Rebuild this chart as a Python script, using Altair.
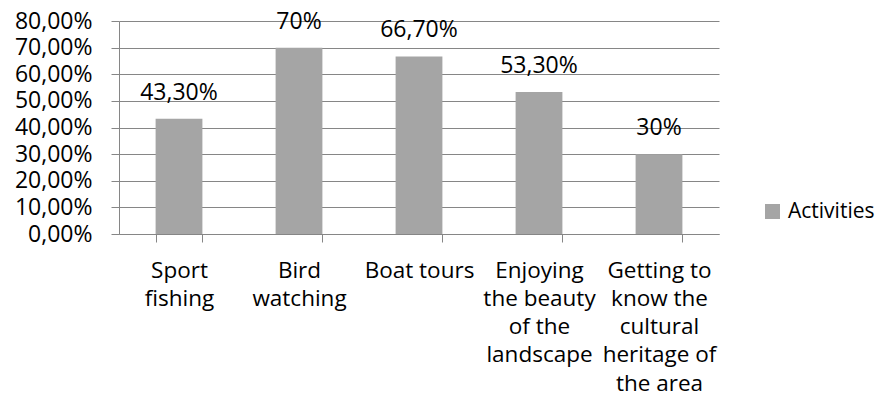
import altair as alt
import pandas as pd

categories = ["Sport fishing", "Bird watching", "Boat tours",
              "Enjoying the beauty of the landscape",
              "Getting to know the cultural heritage of the area"]
wrapped = [["Sport", "fishing"], ["Bird", "watching"], ["Boat tours"],
           ["Enjoying", "the beauty", "of the", "landscape"],
           ["Getting to", "know the", "cultural", "heritage of", "the area"]]
values = [43.3, 70.0, 66.7, 53.3, 30.0]
value_labels = ["43,30%", "70%", "66,70%", "53,30%", "30%"]
y_ticks = [0, 10, 20, 30, 40, 50, 60, 70, 80]
series = "Activities"

df = pd.DataFrame({"cat": categories, "val": values, "lab": value_labels,
                   "series": [series] * len(categories)})

# label expression mapping category -> wrapped lines
parts = []
for c, w in zip(categories, wrapped):
    arr = "[" + ",".join("'" + s + "'" for s in w) + "]"
    parts.append(f"datum.label == '{c}' ? {arr} : ")
label_expr = "".join(parts) + "datum.label"

FONT = "Open Sans"
FS = 22.5
NUM_FS = 23
GRID = "#868686"

y_axis = alt.Axis(values=y_ticks,
                  labelExpr="replace(format(datum.value, '.2f'), '.', ',') + '%'",
                  labelFont=FONT, labelFontSize=NUM_FS, labelColor="#000000",
                  labelPadding=19, tickSize=8, tickColor=GRID,
                  labelOverlap=False, labelBound=False, labelFlush=False,
                  domainColor=GRID, gridColor=GRID, grid=True)
y_scale = alt.Scale(domain=[0, 80], nice=False)

base = alt.Chart(df).encode(
    x=alt.X("cat:N", sort=categories, title=None,
            scale=alt.Scale(paddingInner=0.61, paddingOuter=0.305),
            axis=alt.Axis(labelExpr=label_expr, labelAngle=0, labelFont=FONT,
                          labelFontSize=FS, labelColor="#000000",
                          labelLineHeight=28.3, labelBaseline="top",
                          labelPadding=17, tickBand="extent", tickSize=8,
                          tickColor=GRID, domainColor=GRID, labelLimit=0,
                          labelOverlap=False, grid=False)),
    y=alt.Y("val:Q", title=None, scale=y_scale, axis=y_axis),
)

bars = base.mark_bar(color="#A5A5A5").encode(
    color=alt.Color("series:N", title=None,
                    scale=alt.Scale(range=["#A5A5A5"]),
                    legend=alt.Legend(orient="none", legendX=643, legendY=180,
                                      symbolType="square", symbolSize=225,
                                      symbolStrokeWidth=0, labelFont=FONT,
                                      labelFontSize=21, labelColor="#000000",
                                      labelOffset=5)),
)

text = base.mark_text(font=FONT, fontSize=NUM_FS, baseline="alphabetic",
                      dy=-19, color="#000000").encode(
    text="lab:N",
)

chart = alt.layer(bars, text).properties(
    width=600, height=213,
    padding={"left": 111, "top": 13, "right": 157, "bottom": 162},
    autosize=alt.AutoSizeParams(type="none"),
).configure_view(stroke=None).configure_axis(domainWidth=1, tickWidth=1, gridWidth=1)

chart.save("out.html", embed_options={"renderer": "svg", "actions": False})
